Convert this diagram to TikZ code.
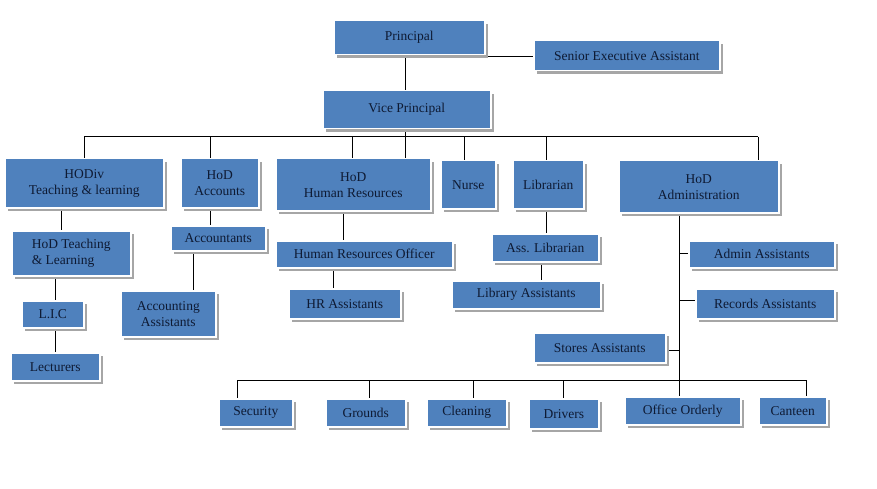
\documentclass[tikz,border=0pt]{standalone}
\usepackage{fontspec}
\setmainfont{Liberation Serif}
\usetikzlibrary{shadows}
\definecolor{bxfill}{HTML}{4F81BD}
\definecolor{bxtext}{HTML}{0E1A33}
\tikzset{bx/.style={fill=bxfill,draw=white,line width=1.5pt,text=bxtext,align=center,inner sep=1pt,
  drop shadow={shadow xshift=3pt,shadow yshift=-3pt,fill=black!35,opacity=1},font=\fontsize{13.5}{16}\selectfont},
  ln/.style={line width=1pt,black}}
\newcommand{\bx}[6]{\pgfmathsetmacro\bw{#4-#2}\pgfmathsetmacro\bh{#5-#3}%
 \node[bx,anchor=north west,minimum width=\bw pt,minimum height=\bh pt] (#1) at (#2,#3) {#6};}
\begin{document}
\begin{tikzpicture}[x=1pt,y=-1pt]
\useasboundingbox (0,0) rectangle (877,489);
% lines
\coordinate (b1) at (84,137);
\coordinate (b2) at (758,137);
\coordinate (ab) at (679,380);
\coordinate (bl) at (237,380);
\coordinate (br) at (806,380);
\coordinate (sj) at (405,57);
\draw[ln] (b1) -- (b2);
\draw[ln] (bl) -- (br);
\draw[ln] (405,54) -- (405,90);
\draw[ln] (sj) -- (533,57);
\draw[ln] (405,128) -- (405,158);
\foreach \x/\y in {84/158,210/158,352/158,464/160,546/160,758/160}{\draw[ln] (\x,137)--(\x,\y);}
\draw[ln] (61,207)--(61,230);
\draw[ln] (55,275)--(55,300);
\draw[ln] (55,327)--(55,352);
\draw[ln] (210,207)--(210,225);
\draw[ln] (193,250)--(193,290);
\draw[ln] (343,210)--(343,240);
\draw[ln] (333,267)--(333,288);
\draw[ln] (546,208)--(546,233);
\draw[ln] (541,261)--(541,280);
\draw[ln] (679,212)--(ab);
\draw[ln] (679,253)--(688,253);
\draw[ln] (679,300)--(695,300);
\draw[ln] (665,350)--(679,350);
\foreach \x/\y in {237/398,369/398,473/398,563/398,679/396,806/396}{\draw[ln] (\x,380)--(\x,\y);}
% boxes
\bx{pr}{333}{20}{484}{54}{Principal}
\bx{sea}{533}{40}{719}{70}{Senior Executive Assistant}
\bx{vp}{322}{90}{490}{128}{Vice Principal}
\bx{hodiv}{4}{158}{163}{207}{HODiv\\Teaching \& learning}
\bx{hoda}{180}{158}{258}{207}{HoD\\Accounts}
\bx{hodhr}{275}{158}{430}{210}{HoD\\Human Resources}
\bx{nurse}{440}{160}{495}{208}{Nurse}
\bx{lib}{512}{160}{583}{208}{Librarian}
\bx{hodad}{618}{160}{778}{212}{HoD\\Administration}
\node[bx,anchor=north west,minimum width=119pt,minimum height=45pt,align=left] (hodtl) at (11,230) {HoD Teaching\\\& Learning};
\bx{lic}{21}{300}{83}{327}{L.I.C}
\bx{lect}{10}{352}{99}{380}{Lecturers}
\bx{acc}{170}{225}{265}{250}{Accountants}
\bx{acca}{120}{290}{215}{336}{Accounting\\Assistants}
\bx{hro}{275}{240}{452}{267}{Human Resources Officer}
\bx{hra}{288}{288}{400}{318}{HR Assistants}
\bx{alib}{491}{233}{598}{261}{Ass. Librarian}
\bx{liba}{451}{280}{600}{308}{Library Assistants}
\bx{adma}{688}{240}{834}{267}{Admin Assistants}
\bx{reca}{695}{288}{834}{318}{Records Assistants}
\bx{stoa}{533}{332}{665}{362}{Stores Assistants}
\bx{sec}{218}{398}{292}{426}{Security}
\bx{gro}{325}{398}{405}{426}{Grounds}
\bx{cle}{426}{398}{506}{426}{Cleaning}
\bx{dri}{528}{398}{598}{428}{Drivers}
\bx{oo}{624}{396}{740}{424}{Office Orderly}
\bx{can}{758}{396}{826}{424}{Canteen}
\end{tikzpicture}
\end{document}
